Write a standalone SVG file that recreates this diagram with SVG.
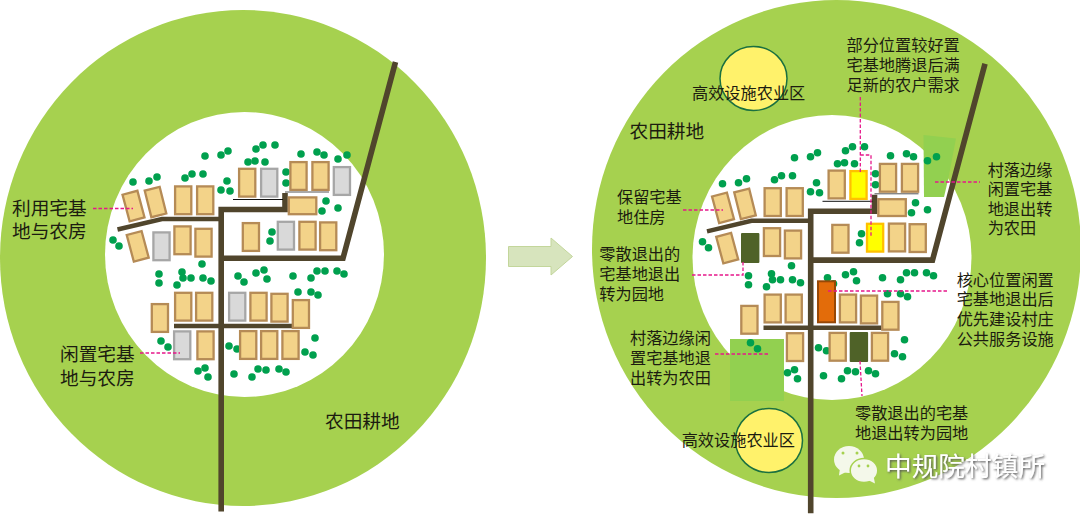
<svg xmlns="http://www.w3.org/2000/svg" width="1080" height="515" viewBox="0 0 1080 515">
<style>
.f{fill:#a6d14f}
.w{fill:#fff}
.h,.g,.y{width:16.2px;height:27.8px;stroke-width:2.3}
.h{fill:#f3d389;stroke:#b58b56}
.g{fill:#d9d9d9;stroke:#a6a6a6}
.y{fill:#ffff00;stroke:#ffc000}
.d{fill:#4f6228}
.c{fill:#92d050}
.r{fill:none;stroke:#50452c;stroke-linejoin:miter}
.r5{stroke-width:5.6}
.r4{stroke-width:4.4}
.t{fill:#00a04e}
.t circle{r:3.8px}
.p{fill:none;stroke:#e6178a;stroke-width:1.3;stroke-dasharray:3.5 2}
.u{fill:#fff26b;stroke:#1a7040;stroke-width:1.5}
text{font-family:"Liberation Sans","Noto Sans CJK SC",sans-serif;font-size:16.2px;fill:#1c1c10}
.b{font-size:18.7px}
.m{font-size:26.7px;fill:#fff;filter:url(#s)}
</style>
<defs>
<filter id="s" x="-5%" y="-10%" width="110%" height="125%"><feDropShadow dx="1.2" dy="1.2" stdDeviation="0.8" flood-color="#555"/></filter>
<g id="trees" class="t">
<circle cx="133" cy="182"/><circle cx="149" cy="181"/><circle cx="157" cy="177"/><circle cx="185" cy="178"/><circle cx="192" cy="174"/><circle cx="203" cy="174"/><circle cx="205" cy="156"/><circle cx="221" cy="155"/><circle cx="228" cy="151"/><circle cx="227" cy="181"/><circle cx="221" cy="190"/><circle cx="230" cy="191"/><circle cx="248" cy="162"/><circle cx="255" cy="161"/><circle cx="265" cy="162"/><circle cx="256" cy="149"/><circle cx="263" cy="145"/><circle cx="275" cy="145"/><circle cx="301" cy="154"/><circle cx="317" cy="152"/><circle cx="324" cy="155"/><circle cx="338" cy="159"/><circle cx="347" cy="155"/><circle cx="286" cy="172"/><circle cx="286" cy="183"/><circle cx="326" cy="201"/><circle cx="322" cy="211"/><circle cx="338" cy="208"/><circle cx="272" cy="232"/><circle cx="270" cy="241"/><circle cx="113" cy="240"/><circle cx="119" cy="246"/>
<circle cx="202" cy="264"/><circle cx="159" cy="274"/><circle cx="159" cy="283"/><circle cx="182" cy="272"/><circle cx="183" cy="278"/><circle cx="191" cy="278"/><circle cx="203" cy="278"/><circle cx="211" cy="281"/><circle cx="177" cy="285"/><circle cx="238" cy="276"/><circle cx="244" cy="282"/><circle cx="256" cy="273"/><circle cx="264" cy="270"/><circle cx="267" cy="279"/><circle cx="293" cy="276"/><circle cx="311" cy="278"/><circle cx="317" cy="271"/><circle cx="325" cy="271"/><circle cx="337" cy="271"/><circle cx="344" cy="274"/><circle cx="298" cy="292"/><circle cx="311" cy="292"/><circle cx="318" cy="295"/><circle cx="315" cy="338"/><circle cx="305" cy="352"/><circle cx="313" cy="355"/><circle cx="161" cy="341"/><circle cx="168" cy="347"/><circle cx="229" cy="346"/><circle cx="237" cy="349"/><circle cx="198" cy="371"/><circle cx="205" cy="368"/><circle cx="208" cy="377"/><circle cx="234" cy="374"/><circle cx="252" cy="377"/><circle cx="258" cy="369"/><circle cx="266" cy="370"/><circle cx="279" cy="369"/><circle cx="286" cy="372"/>
</g>
<g id="roads">
<path class="r r5" d="M395.500 62L343 258.300H221.200M221.200 511.500V209.500H285V193"/>
<path class="r r4" d="M117.500 229.500L162 219H221"/>
<path class="r r4" d="M174 326H292"/>
<path d="M233 199.500H283" fill="none" stroke="#111" stroke-width="1"/>
<path d="M285 192H329" fill="none" stroke="#555" stroke-width="1"/>
</g>
<g id="houses">
<rect class="h" x="125.800" y="192.300" style="width:15.400px;height:27.500px" transform="rotate(-15 133.500 206)"/>
<rect class="h" x="147.800" y="188.300" style="width:15.400px;height:27.500px" transform="rotate(-14 155.500 202)"/>
<rect class="h" x="130" y="232.600" style="width:15.400px;height:27.500px" transform="rotate(-15 137.700 246.300)"/>
<rect class="h" x="175.100" y="186.400"/>
<rect class="h" x="197.100" y="186.400"/>
<rect class="h" x="239.100" y="168.800"/>
<rect class="h" x="290.400" y="162.100"/>
<rect class="h" x="312.400" y="162.100"/>
<rect class="h" x="288.800" y="197.400" style="width:27.500px;height:16.800px"/>
<rect class="h" x="242.800" y="223.100"/>
<rect class="h" x="299.400" y="221.800"/>
<rect class="h" x="320.100" y="222.400"/>
<rect class="h" x="174.400" y="226.400"/>
<rect class="h" x="195.400" y="228.800"/>
<rect class="h" x="151.800" y="304.100"/>
<rect class="h" x="175.100" y="292.800"/>
<rect class="h" x="196.100" y="292.800"/>
<rect class="h" x="250.400" y="292.800"/>
<rect class="h" x="271.400" y="293.800"/>
<rect class="h" x="292.800" y="300.100"/>
<rect class="h" x="197.400" y="331.400"/>
<rect class="h" x="240.100" y="331.100"/>
<rect class="h" x="282.400" y="331.100"/>
</g>
</defs>

<g id="left-map">
<ellipse class="f" cx="243" cy="258" rx="243" ry="248"/>
<ellipse class="w" cx="244.500" cy="254.500" rx="139.500" ry="142.500"/>
<use href="#trees"/>
<use href="#roads"/>
<use href="#houses"/>
<g id="left-variants">
<rect class="g" x="261.100" y="168.800"/>
<rect class="g" x="333.800" y="167.100"/>
<rect class="g" x="277.800" y="221.800"/>
<rect class="g" x="153.400" y="232.400"/>
<rect class="g" x="229.100" y="292.800"/>
<rect class="h" x="261.100" y="331.100"/>
<rect class="g" x="174.100" y="331.400"/>
</g>
<path class="p" d="M93 208.500H133M140 353H180"/>
<text class="b" x="12" y="214.500">利用宅基<tspan x="12" dy="23.500">地与农房</tspan></text>
<text class="b" x="60" y="361">闲置宅基<tspan x="60" dy="23.500">地与农房</tspan></text>
<text class="b" x="325" y="428">农田耕地</text>
</g>

<g id="arrow"><path d="M508.500 246.500H551V238L572.500 256.500L551 275V266.500H508.500Z" fill="#d7e4bd" stroke="#c3d69b" stroke-width="1"/></g>

<g id="right-map">
<ellipse class="f" cx="836.500" cy="249" rx="244.500" ry="249"/>
<ellipse class="w" cx="832" cy="257.500" rx="139.500" ry="142.500"/>
<polygon class="c" points="923.500,135 956,138.500 948,180 944,197 924,197"/>
<rect class="c" x="730" y="339" width="54" height="62"/>
<g transform="translate(589.500 1.800)">
<use href="#trees"/>
<use href="#roads"/>
<use href="#houses"/>
</g>
<g id="right-changed">
<rect class="y" x="850.400" y="171.100"/>
<rect class="y" x="867" y="223.800"/>
<rect class="d" x="741" y="233" width="18.400" height="30" rx="1"/>
<rect x="818" y="281.300" width="17" height="41" fill="#e36c0a" stroke="#974806" stroke-width="2"/>
<rect class="d" x="849.700" y="332" width="18.400" height="30" rx="1"/>
</g>
<ellipse class="u" cx="753.500" cy="78.500" rx="33.500" ry="32"/>
<ellipse class="u" cx="769" cy="440.500" rx="33.500" ry="32"/>
<g id="callouts">
<path class="p" d="M860.300 97V173M860.300 155H871V237"/>
<path class="p" d="M935 182H980"/>
<path class="p" d="M683 210H723"/>
<path class="p" d="M692 275H743V261"/>
<path class="p" d="M828 291H947"/>
<path class="p" d="M715 354H769"/>
<path class="p" d="M860 361L862 396"/>
</g>
<text x="692" y="98.500">高效设施农业区</text>
<text x="681.700" y="446">高效设施农业区</text>
<text class="b" x="629.500" y="137.500">农田耕地</text>
<text x="846.500" y="51">部分位置较好置<tspan x="846.500" dy="20">宅基地腾退后满</tspan><tspan x="846.500" dy="19.500">足新的农户需求</tspan></text>
<text x="987.700" y="175.500">村落边缘<tspan x="987.700" dy="19.500">闲置宅基</tspan><tspan x="987.700" dy="19.500">地退出转</tspan><tspan x="987.700" dy="19.500">为农田</tspan></text>
<text x="617" y="203">保留宅基<tspan x="617" dy="20">地住房</tspan></text>
<text x="599.300" y="259.500">零散退出的<tspan x="599.300" dy="20">宅基地退出</tspan><tspan x="599.300" dy="20">转为园地</tspan></text>
<text x="956.700" y="285.500">核心位置闲置<tspan x="956.700" dy="19.500">宅基地退出后</tspan><tspan x="956.700" dy="20">优先建设村庄</tspan><tspan x="956.700" dy="19.500">公共服务设施</tspan></text>
<text x="630" y="343.500">村落边缘闲<tspan x="630" dy="20">置宅基地退</tspan><tspan x="630" dy="20">出转为农田</tspan></text>
<text x="855" y="419">零散退出的宅基<tspan x="855" dy="20">地退出转为园地</tspan></text>
</g>

<g id="watermark" fill="#f4f8ea">
<ellipse cx="849" cy="459.500" rx="15" ry="13.500"/><path d="M840 468L839 475.500L848 471Z"/>
<ellipse cx="864" cy="470.500" rx="13.800" ry="12" stroke="#a6d14f" stroke-width="1.500"/><path d="M868 480L875 483.500L873.500 476Z"/>
<g fill="#a6d14f"><circle cx="843" cy="453" r="1.500"/><circle cx="857" cy="453" r="1.500"/><circle cx="859" cy="466" r="1.400"/><circle cx="868" cy="466" r="1.400"/></g>
<text class="m" x="885" y="476">中规院村镇所</text>
</g>
</svg>
